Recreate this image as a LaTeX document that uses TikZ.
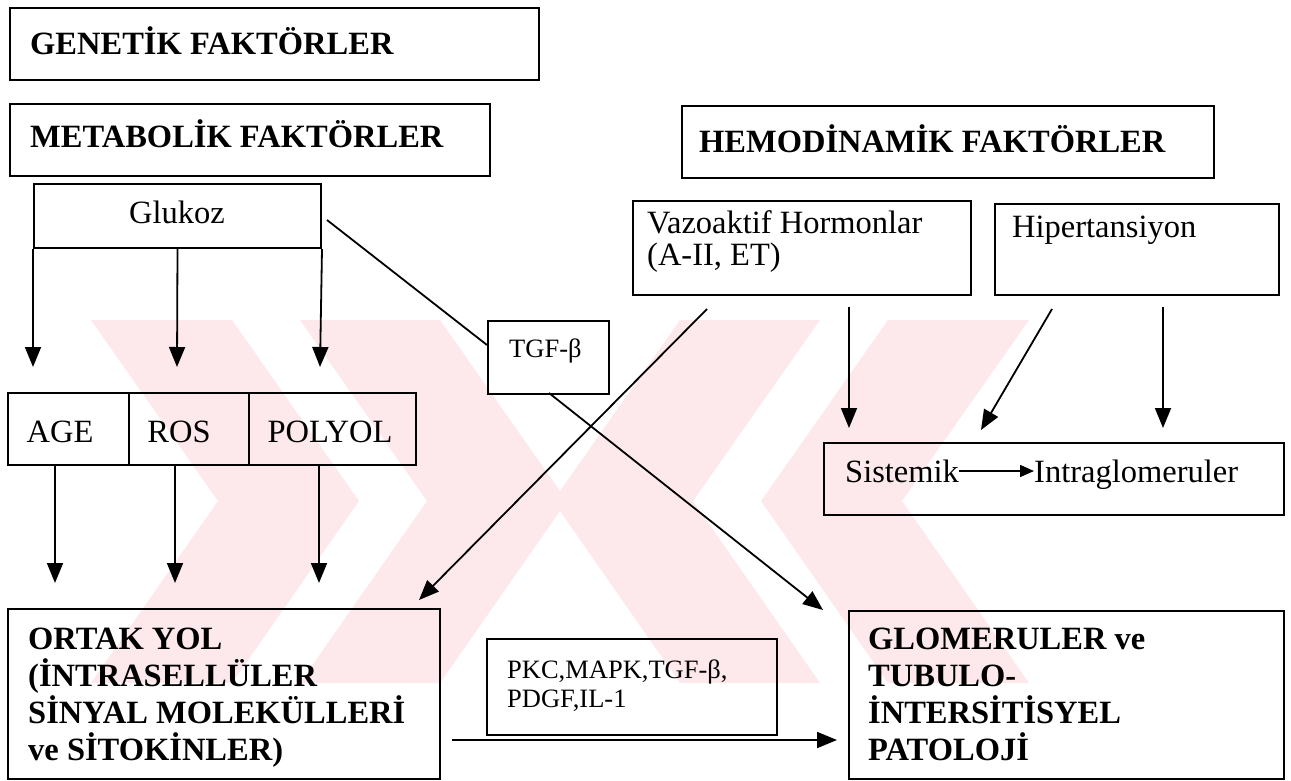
\documentclass[tikz,border=0pt]{standalone}
\usepackage{fontspec}
\setmainfont{Liberation Serif}
\usetikzlibrary{arrows.meta}
\definecolor{wmpink}{RGB}{253,232,236}
\begin{document}
\begin{tikzpicture}[x=1pt,y=-1pt,
  box/.style={draw, line width=2pt, inner sep=0pt, anchor=north west},
  hd/.style={anchor=base west, inner sep=0pt, font=\fontsize{32.5}{37}\selectfont\bfseries},
  lbl/.style={anchor=base west, inner sep=0pt, font=\fontsize{32.5}{37}\selectfont},
  sm/.style={anchor=base west, inner sep=0pt, font=\fontsize{26.5}{30}\selectfont},
  ln/.style={line width=1.8pt},
  arr/.style={line width=1.8pt, -{Triangle[length=20pt,width=16pt]}},
  sarr/.style={line width=1.5pt, -{Triangle[length=14pt,width=12pt]}}]
\useasboundingbox (0,0) rectangle (1291,780);
\fill[white] (0,0) rectangle (1291,780);

% faint background emblem: two double-banded chevrons
\begin{scope}
\clip (0,320) rectangle (1291,683);
\fill[wmpink] (91,320) -- (232,320) -- (359,501) -- (232,683) -- (91,683) -- (218,501) -- cycle;
\fill[wmpink] (300,320) -- (440,320) -- (567,501) -- (440,683) -- (300,683) -- (427,501) -- cycle;
\fill[wmpink] (888,320) -- (1029,320) -- (902,501) -- (1029,683) -- (888,683) -- (761,501) -- cycle;
\fill[wmpink] (680,320) -- (820,320) -- (693,501) -- (820,683) -- (680,683) -- (553,501) -- cycle;
\end{scope}

% boxes
\node[box, minimum width=529pt, minimum height=72pt] (gen) at (9,7) {};
\node[box, minimum width=480pt, minimum height=72pt] (met) at (9,103) {};
\node[box, minimum width=287pt, minimum height=64pt] (glu) at (33,183) {};
\node[box, minimum width=532pt, minimum height=72pt] (hem) at (681,105) {};
\node[box, minimum width=338pt, minimum height=94pt] (vaz) at (632,200) {};
\node[box, minimum width=284pt, minimum height=91pt] (hip) at (994,203) {};
\node[box, minimum width=121pt, minimum height=73pt] (tgf) at (487,320) {};
\node[box, minimum width=121pt, minimum height=72pt] (age) at (7,392) {};
\node[box, minimum width=120pt, minimum height=72pt] (ros) at (128,392) {};
\node[box, minimum width=167pt, minimum height=72pt] (pol) at (248,392) {};
\node[box, minimum width=460pt, minimum height=72pt] (sis) at (823,442) {};
\node[box, minimum width=432pt, minimum height=170pt] (ort) at (7,608) {};
\node[box, minimum width=290pt, minimum height=96pt] (pkc) at (486,638) {};
\node[box, minimum width=435pt, minimum height=168pt] (glo) at (848,610) {};

% texts
\node[hd] (gen-t) at (30,54) {GENETİK FAKTÖRLER};
\node[hd] (met-t) at (30,147) {METABOLİK FAKTÖRLER};
\node[hd] (hem-t) at (699,152) {HEMODİNAMİK FAKTÖRLER};
\node[lbl, anchor=base] (glu-t) at (177,223) {Glukoz};
\node[lbl] (vaz-t1) at (647,233) {Vazoaktif Hormonlar};
\node[lbl] (vaz-t2) at (647,265) {(A-II, ET)};
\node[lbl] (hip-t) at (1012,237) {Hipertansiyon};
\node[sm] (tgf-t) at (509,357) {TGF-β};
\node[lbl, anchor=base] (age-t) at (60,442) {AGE};
\node[lbl, anchor=base] (ros-t) at (179,442) {ROS};
\node[lbl, anchor=base] (pol-t) at (330,442) {POLYOL};
\node[lbl] (sis-a) at (845,482) {Sistemik};
\node[lbl] (sis-b) at (1034,482) {Intraglomeruler};
\node[hd] (ort-1) at (28,649) {ORTAK YOL};
\node[hd] (ort-2) at (28,686) {(İNTRASELLÜLER};
\node[hd] (ort-3) at (28,723) {SİNYAL MOLEKÜLLERİ};
\node[hd] (ort-4) at (28,760) {ve SİTOKİNLER)};
\node[sm] (pkc-1) at (507,678) {PKC,MAPK,TGF-β,};
\node[sm] (pkc-2) at (507,707) {PDGF,IL-1};
\node[hd] (glo-1) at (868,649) {GLOMERULER ve};
\node[hd] (glo-2) at (868,686) {TUBULO-};
\node[hd] (glo-3) at (868,723) {İNTERSİTİSYEL};
\node[hd] (glo-4) at (868,760) {PATOLOJİ};

% connector end points
\coordinate (g1) at (33,367);
\coordinate (g2) at (177,367);
\coordinate (g3) at (320,367);
\coordinate (o1) at (55,583);
\coordinate (o2) at (175,583);
\coordinate (o3) at (319,583);
\coordinate (gluout) at (327,220);
\coordinate (tgfin) at (487,345);
\coordinate (tgfout) at (549,393);
\coordinate (gloin) at (823,610);
\coordinate (vazout1) at (707,309);
\coordinate (ortin) at (419,600);
\coordinate (vazout2) at (849,307);
\coordinate (sisin1) at (849,428);
\coordinate (hipout1) at (1052,309);
\coordinate (sisin2) at (981,430);
\coordinate (hipout2) at (1163,307);
\coordinate (sisin3) at (1163,428);
\coordinate (ortout) at (452,740);
\coordinate (gloin2) at (837,740);

% connectors
\draw[arr] (glu.south west) -- (g1);
\draw[arr] (glu.south) -- (g2);
\draw[arr] (glu.south east) -- (g3);
\draw[arr] (age.south -| o1) -- (o1);
\draw[arr] (ros.south -| o2) -- (o2);
\draw[arr] (pol.south -| o3) -- (o3);
\draw[ln] (gluout) -- (tgfin);
\draw[arr] (tgfout) -- (gloin);
\draw[arr] (vazout1) -- (ortin);
\draw[arr] (vazout2) -- (sisin1);
\draw[arr] (hipout1) -- (sisin2);
\draw[arr] (hipout2) -- (sisin3);
\draw[arr] (ortout) -- (gloin2);
\draw[sarr] (sis-a.east |- 0,471) -- (sis-b.west |- 0,471);
\end{tikzpicture}
\end{document}
